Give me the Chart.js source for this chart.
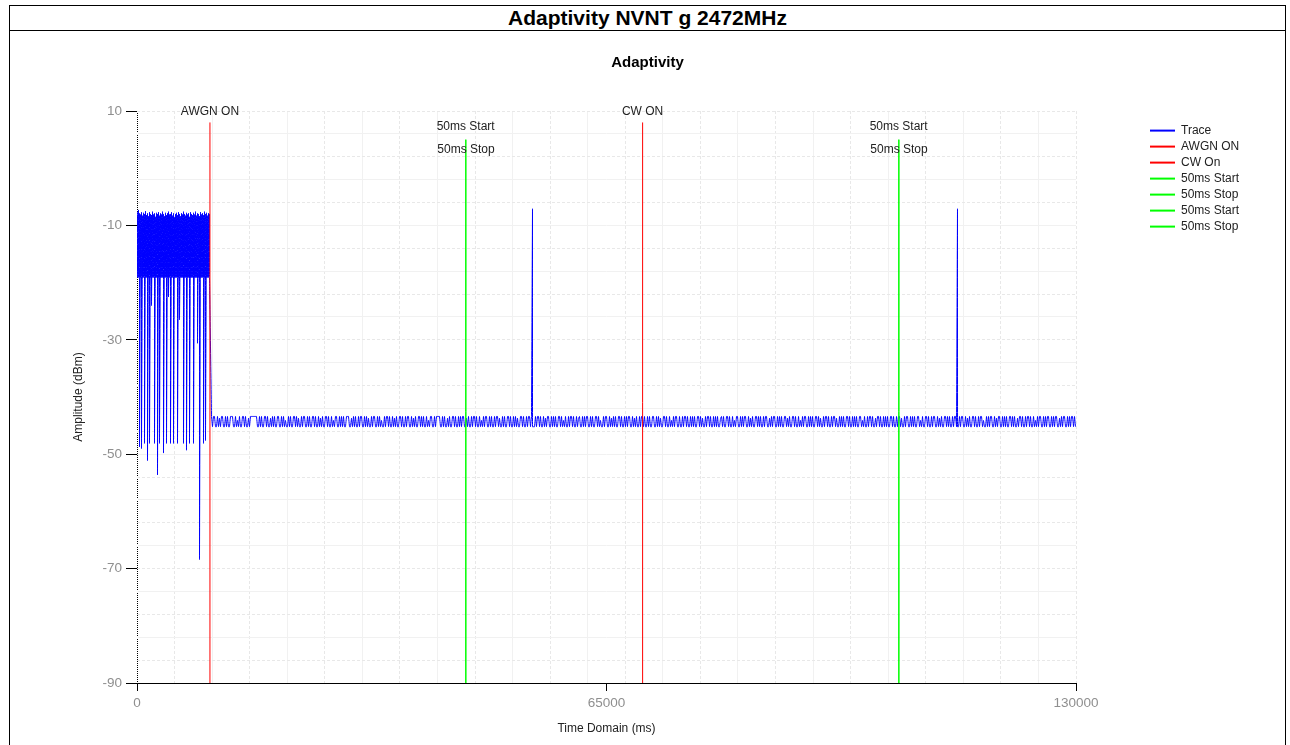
<!DOCTYPE html>
<html>
<head>
<meta charset="utf-8">
<title>Adaptivity NVNT g 2472MHz</title>
<script src="https://cdn.jsdelivr.net/npm/chart.js@4.4.1/dist/chart.umd.min.js"></script>
<style>
  html, body { margin: 0; padding: 0; background: #fff; overflow: hidden; }
  #frame { position: absolute; left: 9px; top: 5px; width: 1275px; height: 800px; border: 1px solid #000; }
  #heading { height: 24px; line-height: 24px; border-bottom: 1px solid #000; text-align: center;
             font: bold 21px 'Liberation Sans', Arial, sans-serif; color: #000; }
  #plot { position: relative; width: 1275px; height: 714px; }
</style>
</head>
<body>
<div id="frame">
  <div id="heading">Adaptivity NVNT g 2472MHz</div>
  <div id="plot"><canvas id="chart" width="1275" height="714"></canvas></div>
</div>
<script>
// ---- Axis ticks ----
const timeTickLabels = [0, 65000, 130000];          // ms
const ampTickLabels = [-90, -70, -50, -30, -10, 10]; // dBm
const timeGridStep = 5200;
const ampGridStep = 4;

// ---- Trace: burst before AWGN ON (max / min of each time bin, dBm) ----
const burstStart = 69.2;  // ms, centre of first bin
const burstStep = 138.45; // ms per bin
const burstTop = [
  -7.6, -7.3, -7.9, -8.1, -7.7, -8.3, -7.8, -8.0, -7.5, -8.2,
  -7.9, -8.4, -7.7, -8.0, -8.2, -7.6, -8.1, -7.9, -8.5, -7.8,
  -8.0, -7.7, -8.3, -7.9, -8.1, -7.6, -8.0, -8.4, -7.8, -8.2,
  -7.9, -7.6, -8.1, -8.0, -7.7, -8.3, -7.9, -8.6, -8.0, -7.8,
  -8.2, -7.7, -8.0, -8.4, -7.9, -8.1, -7.6, -8.0, -8.3, -7.8,
  -8.1, -7.9, -8.5, -7.7, -8.0, -8.2, -7.8, -8.1, -7.6, -8.3,
  -7.9, -8.0, -8.4, -7.7, -8.1, -7.9, -8.2, -7.6, -8.0, -7.8,
  -8.3, -7.9, -8.0
];
const burstLow = [
  -19.1, -19.1, -48.7, -19.1, -49.0, -19.1, -19.1, -48.1, -19.1, -19.1,
  -51.1, -19.1, -48.1, -19.1, -24.0, -19.1, -19.1, -48.1, -19.1, -19.1,
  -53.6, -19.1, -48.1, -19.1, -19.1, -19.1, -49.8, -19.1, -19.1, -48.1,
  -19.1, -22.5, -19.1, -48.1, -19.1, -19.1, -48.1, -19.1, -19.1, -19.1,
  -48.1, -19.1, -26.5, -19.1, -19.1, -19.1, -48.1, -19.1, -19.1, -49.3,
  -19.1, -19.1, -48.1, -19.1, -19.1, -19.1, -48.1, -19.1, -19.1, -19.1,
  -30.6, -19.1, -68.4, -19.1, -19.1, -19.1, -48.1, -19.1, -47.6, -19.1,
  -19.1, -19.1, -19.1
];

// ---- Trace: noise floor after AWGN ON (dB above the floor level) ----
const floorStart = 10314; // ms
const floorStep = 138.45; // ms
const floorLevel = -45.2; // dBm
const floorRise = [
  1.8,0,1.8,1.8,0, 0,1.8,0,1.5,0, 1.8,1.8,0,0,1.8, 0,1.8,0,0,1.8, 1.8,1.8,0,0,1.8, 0,1.1,0,1.8,0, 0,1.8,1.8,0,1.8, 0,0,1.5,0,1.8,
  1.8,1.8,1.8,1.8,1.8, 1.8,0,0,1.8,0, 1.8,0,0,1.8,1.8, 0,1.8,0,0,1.5, 0,1.8,0,1.8,0, 0,1.8,1.8,0,0, 1.8,0,1.8,0,1.1, 0,0,1.8,0,1.8,
  0,0,1.8,1.8,0, 1.8,0,1.5,0,0, 1.8,0,1.8,1.8,0, 0,1.8,0,1.8,0, 0,1.8,1.8,0,1.8, 0,0,1.8,0,1.5, 0,1.8,0,0,1.8, 1.8,0,1.8,0,0,
  1.8,0,1.1,0,1.8, 1.8,0,0,1.8,0, 1.8,0,1.8,0,0, 1.8,1.8,1.8,0,0, 1.5,0,1.8,0,1.8, 0,0,1.8,0,1.8, 1.8,0,0,1.8,0, 1.8,0,1.5,0,0,
  1.8,0,1.8,1.8,0, 0,1.8,0,1.8,0, 1.1,0,0,1.8,0, 1.8,1.8,0,1.8,0, 0,1.8,0,1.5,0, 1.8,0,0,1.8,1.8, 0,1.8,0,0,1.8, 0,1.8,1.8,0,0,
  1.8,0,1.5,0,1.8, 0,0,1.8,1.8,0, 1.8,0,1.8,0,0, 1.8,0,1.1,0,1.8, 1.8,0,0,1.8,0, 1.8,1.8,1.8,1.8,0, 0,1.8,0,1.8,0, 0,1.5,0,1.8,0,
  0,1.8,1.8,0,1.8, 0,0,1.8,0,1.8, 0,1.8,1.8,0,0, 1.5,0,1.8,0,0, 1.8,0,1.8,1.8,0, 1.8,0,0,1.8,0, 1.1,0,1.8,0,1.8, 1.8,0,0,1.8,0,
  1.8,0,0,1.8,0, 1.8,1.8,0,1.5,0, 0,1.8,0,1.8,0, 0,1.8,1.8,0,1.8, 0,0,1.8,0,1.8, 0,1.5,0,0,1.8, 1.8,0,1.8,0,0, 1.8,0,1.8,1.8,0,
  1.8,0,0,0,1.8, 0,1.8,1.8,0,1.8, 0,0,1.8,0,1.5, 0,1.8,1.8,0,0, 1.8,0,1.8,0,1.8, 0,0,1.8,1.8,0, 1.8,0,1.1,0,1.8, 0,0,1.8,0,1.8,
  1.8,0,1.8,0,0, 1.8,0,1.5,1.8,0, 0,1.8,0,1.8,0, 1.8,1.8,0,0,1.8, 0,1.8,0,0,1.8, 1.8,0,1.8,0,1.1, 0,0,1.8,0,1.8, 1.8,0,0,1.8,0,
  1.5,0,1.8,0,1.8, 0,0,1.8,1.8,0, 1.8,0,0,1.8,0, 1.8,0,1.8,1.8,0, 0,1.8,0,1.5,0, 1.8,0,0,1.8,0, 1.8,1.8,0,1.8,0, 0,1.8,0,1.8,0,
  0,1.8,1.8,0,0, 1.8,0,1.8,0,1.5, 0,0,1.8,1.8,0, 1.8,0,0,1.8,0, 1.1,0,1.8,0,1.8, 1.8,0,0,1.8,0, 0,1.8,0,1.8,1.8, 0,1.8,0,0,1.8,
  0,1.8,0,1.8,0, 0,1.8,1.8,0,1.8, 0,1.5,0,0,1.8, 0,1.8,1.8,0,1.8, 0,0,1.8,0,1.8, 0,1.8,0,0,1.5, 1.8,0,1.8,0,0, 1.8,1.8,0,1.8,0,
  0,1.8,0,1.1,0, 1.8,1.8,0,0,1.8, 0,1.8,0,1.8,1.8, 0,0,1.8,0,1.5, 0,1.8,0,0,1.8, 1.8,0,1.8,0,1.8, 0,0,1.8,0,1.8, 1.8,0,0,1.5,0,
  1.8,0,1.8,1.8,0, 0,1.8,0,1.8,0, 1.8,0,0,1.8,1.8, 0,1.5,0,1.8,0, 0,1.8,1.8,0,1.8, 0,0,1.8,0,1.1, 0,1.8,0,1.8,1.8, 0,0,1.8,0,1.8,
  0,1.8,0,0,1.8, 1.8,0,1.8,0,1.5, 0,0,1.8,0,1.8, 1.8,0,1.8,0,0, 1.8,0,1.8,1.8,0, 1.5,0,0,1.8,0, 1.8,0,1.8,0,0, 1.8,1.8,0,1.8,0,
  0,1.8,0,1.8,0, 1.8,0,0,1.8,1.8, 0,1.1,0,1.8,0, 0,1.8,0,1.8,1.8, 0,1.8,0,0,1.5, 0,1.8,1.8,0,1.8, 0,0,1.8,0,1.8, 0,1.8,0,0,1.8,
  1.8,0,1.8,0,0, 1.8,0,1.8,1.8,0, 1.5,0,0,1.8,0, 1.8,1.8,0,0,1.8, 0,1.8,0,1.8,0, 0,1.8,1.8,0,1.1, 0,1.8,0,0,1.8, 1.8,0,1.8,0,0,
  1.8,0,1.8,1.8,0, 0,1.8,0,1.5,0, 1.8,0,0,1.8,1.8, 0,1.8,0,1.8,0, 0,1.8,0,1.8,1.8, 0,0,0,1.8,0, 1.8,1.8,0,0,1.8, 0,1.5,0,1.8,0,
  0,1.8,1.8,0,1.8, 0,0,1.8,0,1.8, 1.8,0,1.1,0,0, 1.8,0,1.8,0,1.8, 1.8,0,0,1.8,0, 1.5,0,1.8,1.8,0, 0,1.8,0,1.8,0, 1.8,0,0,1.8,1.8,
  0,1.8,0,1.8,0, 0,1.5,0,1.8,1.8, 0,1.8,0,0,1.8, 0,1.8,1.8,0,1.8, 0,0,1.8,0,1.1, 0,1.8,0,1.8,1.8, 0,0,1.8,0,1.8, 0,1.8,1.8,0,0,
  1.8,0,1.8,0,1.8, 1.8,0,0,1.5,0, 1.8,0,1.8,1.8,0, 0,1.8,0,1.8,0, 1.8,1.8,0,1.8,0
];

// ---- Trace: isolated peaks ----
const spikeTimes = [54755, 113594]; // ms
const spikeLevels = [-7.1, -7.1];   // dBm

// ---- Event markers ----
const markerNames = ['AWGN ON', 'CW On', '50ms Start', '50ms Stop', '50ms Start', '50ms Stop'];
const markerCaptions = ['AWGN ON', 'CW ON', '50ms Start', '50ms Stop', '50ms Start', '50ms Stop'];
const markerTimes = [10100, 70000, 45500, 45550, 105450, 105500]; // ms
const markerTops = [8, 8, 5, 5, 5, 5];                            // dBm

// ---- Styles ----
const FONT = "'Liberation Sans', Arial, sans-serif";
const markerColors = ['#ff0000', '#ff0000', '#00ff00', '#00ff00', '#00ff00', '#00ff00'];
const gridSolid = '#f1f1f1';
const gridDashed = '#e8e8e8';

// Assemble the trace from its parts (burst bins carry a max and a min at the same time)
const trace = [];
burstTop.forEach((v, i) => {
  const t = burstStart + i * burstStep;
  trace.push({ x: t, y: v });
  trace.push({ x: t, y: burstLow[i] });
});
floorRise.forEach((r, k) => trace.push({ x: floorStart + k * floorStep, y: floorLevel + r }));
spikeTimes.forEach((t, j) => trace.push({ x: t, y: spikeLevels[j] }));
trace.sort((a, b) => a.x - b.x);

function steps(from, to, step) {
  const out = [];
  for (let v = from; v <= to + 1e-6; v += step) out.push(Math.round(v * 1000) / 1000);
  return out;
}
const xMin = timeTickLabels[0], xMax = timeTickLabels[timeTickLabels.length - 1];
const yMin = ampTickLabels[0], yMax = ampTickLabels[ampTickLabels.length - 1];

const datasets = [{
  label: 'Trace',
  data: trace,
  borderColor: '#0000ff',
  backgroundColor: '#0000ff',
  borderWidth: 1,
  pointRadius: 0,
  tension: 0.000001, // keeps every sample in the path (no per-pixel collapsing)
  order: 1
}];
markerNames.forEach((name, i) => {
  datasets.push({
    label: name,
    data: [{ x: markerTimes[i], y: yMin }, { x: markerTimes[i], y: markerTops[i] }],
    borderColor: markerColors[i],
    backgroundColor: markerColors[i],
    borderWidth: 1,
    pointRadius: 0,
    order: 0
  });
});

// Caption text above each marker line
const markerCaptionPlugin = {
  id: 'markerCaptions',
  afterDatasetsDraw(chart, args, opts) {
    const { ctx } = chart;
    const xs = chart.scales.x, ys = chart.scales.y;
    ctx.save();
    ctx.font = '12px ' + FONT;
    ctx.fillStyle = '#222';
    ctx.textAlign = 'center';
    ctx.textBaseline = 'middle';
    markerCaptions.forEach((txt, i) => {
      ctx.fillText(txt, xs.getPixelForValue(markerTimes[i]), ys.getPixelForValue(opts.levels[i]));
    });
    ctx.restore();
  }
};

const xGridIndex = v => v / timeGridStep;
const yGridIndex = v => (v - yMin) / ampGridStep;

Chart.defaults.font.family = FONT;

new Chart(document.getElementById('chart'), {
  type: 'line',
  data: { datasets },
  plugins: [markerCaptionPlugin],
  options: {
    responsive: false,
    animation: false,
    events: [],
    layout: { padding: { left: 39, right: 39, top: 0, bottom: 9 } },
    scales: {
      x: {
        type: 'linear',
        min: xMin,
        max: xMax,
        afterBuildTicks: s => {
          const vals = [...new Set([...steps(xMin, xMax, timeGridStep), ...timeTickLabels])].sort((a, b) => a - b);
          s.ticks = vals.map(v => ({ value: v }));
        },
        afterFit: s => { s.height = 53; },
        ticks: {
          autoSkip: false,
          maxRotation: 0,
          padding: 4,
          color: '#8f8f8f',
          font: { size: 13.5 },
          callback: v => timeTickLabels.includes(v) ? String(v) : ''
        },
        grid: {
          lineWidth: 1,
          tickLength: 8,
          color: ctx => {
            const v = ctx.tick.value;
            if (v === xMin) return '#000';
            const k = xGridIndex(v);
            if (!Number.isInteger(k)) return 'rgba(0,0,0,0)';
            return k % 2 === 0 ? gridSolid : gridDashed;
          },
          tickColor: ctx => timeTickLabels.includes(ctx.tick.value) ? '#000' : 'rgba(0,0,0,0)'
        },
        border: {
          display: true,
          color: '#000',
          width: 1,
          dash: ctx => {
            if (!ctx.tick) return [];
            const v = ctx.tick.value;
            if (v === xMin) return [1, 1];
            const k = xGridIndex(v);
            return (Number.isInteger(k) && k % 2 === 1) ? [3, 2] : [];
          }
        },
        title: {
          display: true,
          text: 'Time Domain (ms)',
          color: '#222',
          font: { size: 12 },
          padding: { top: 0, bottom: 0 }
        }
      },
      y: {
        type: 'linear',
        min: yMin,
        max: yMax,
        afterBuildTicks: s => { s.ticks = steps(yMin, yMax, ampGridStep).map(v => ({ value: v })); },
        afterFit: s => { s.width = 88; },
        ticks: {
          autoSkip: false,
          padding: 4,
          color: '#8f8f8f',
          font: { size: 13.5 },
          callback: v => ampTickLabels.includes(v) ? String(v) : ''
        },
        grid: {
          lineWidth: 1,
          tickLength: 11,
          color: ctx => {
            const v = ctx.tick.value;
            if (v === yMin) return 'rgba(0,0,0,0)';
            return yGridIndex(v) % 2 === 0 ? gridSolid : gridDashed;
          },
          tickColor: ctx => ampTickLabels.includes(ctx.tick.value) ? '#000' : 'rgba(0,0,0,0)'
        },
        border: {
          display: false,
          dash: ctx => (ctx.tick && yGridIndex(ctx.tick.value) % 2 === 1) ? [3, 2] : []
        },
        title: {
          display: true,
          text: 'Amplitude (dBm)',
          color: '#222',
          font: { size: 12 },
          padding: { top: 22, bottom: 0 }
        }
      },
      gap: {
        type: 'linear',
        position: 'right',
        display: true,
        afterFit: s => { s.width = 70; },
        grid: { display: false, drawTicks: false },
        border: { display: false },
        ticks: { display: false }
      }
    },
    plugins: {
      title: {
        display: true,
        text: 'Adaptivity',
        color: '#000',
        font: { size: 15, weight: 'bold' },
        padding: { top: 23, bottom: 39 }
      },
      legend: {
        position: 'right',
        align: 'start',
        fullSize: false,
        maxWidth: 100,
        title: { display: true, text: '', font: { size: 8 }, padding: 0 },
        labels: {
          boxWidth: 25,
          boxHeight: 2,
          padding: 4,
          color: '#222',
          font: { size: 12 },
          generateLabels: chart => Chart.defaults.plugins.legend.labels.generateLabels(chart)
            .map(item => Object.assign(item, { lineWidth: 0, fillStyle: item.strokeStyle })),
          sort: (a, b) => a.datasetIndex - b.datasetIndex
        }
      },
      tooltip: { enabled: false },
      markerCaptions: { levels: [9.8, 9.8, 7.2, 3.2, 7.2, 3.2] }
    }
  }
});
</script>
</body>
</html>
